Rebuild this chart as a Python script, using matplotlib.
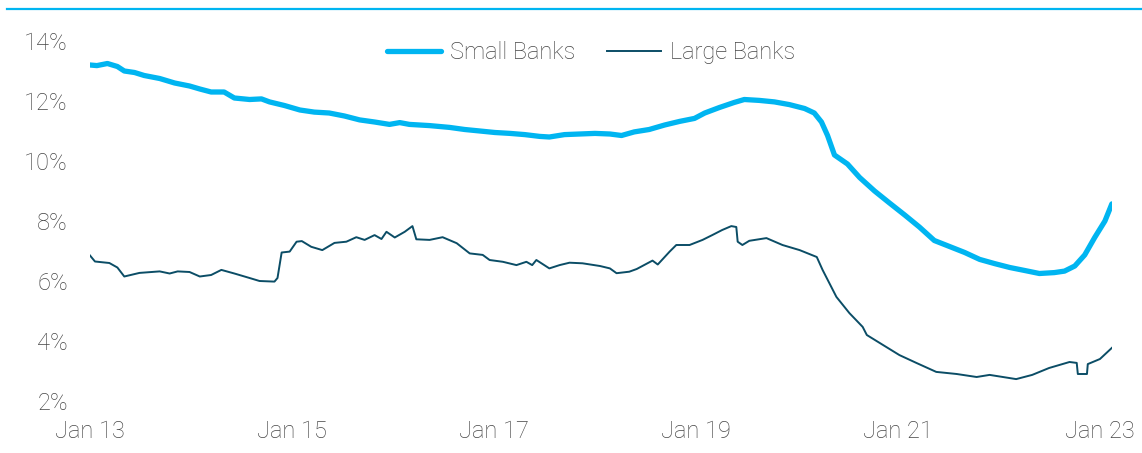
import pandas as pd
import matplotlib
matplotlib.use("Agg")
import matplotlib.pyplot as plt
import matplotlib.dates as mdates
from matplotlib.lines import Line2D

plt.rcParams["font.family"] = ["Roboto", "DejaVu Sans"]
plt.rcParams["font.weight"] = "light"

# Small banks (values in %)
small_dates = ["2013-01-01", "2013-01-26", "2013-03-05", "2013-04-10", "2013-05-05", "2013-06-11",
               "2013-07-16", "2013-09-10", "2013-11-03", "2013-12-27", "2014-02-02", "2014-03-15",
               "2014-05-01", "2014-06-07", "2014-08-01", "2014-09-13", "2014-10-12", "2014-12-05",
               "2015-01-30", "2015-03-23", "2015-05-16", "2015-07-10", "2015-09-03", "2015-10-27",
               "2015-12-20", "2016-01-26", "2016-03-01", "2016-05-13", "2016-07-24", "2016-09-17",
               "2016-11-11", "2017-01-04", "2017-02-28", "2017-04-22", "2017-06-15", "2017-07-20",
               "2017-09-13", "2017-11-07", "2018-01-01", "2018-02-24", "2018-04-07", "2018-05-23",
               "2018-07-16", "2018-09-10", "2018-11-03", "2018-12-27", "2019-02-02", "2019-03-26",
               "2019-05-19", "2019-06-25", "2019-08-18", "2019-10-12", "2019-12-05", "2020-01-29",
               "2020-03-04", "2020-03-30", "2020-04-21", "2020-05-16", "2020-07-02", "2020-08-15",
               "2020-10-08", "2020-12-01", "2021-01-25", "2021-03-19", "2021-05-12", "2021-07-06",
               "2021-08-30", "2021-10-23", "2021-12-16", "2022-02-09", "2022-04-04", "2022-05-27",
               "2022-07-20", "2022-08-26", "2022-10-02", "2022-11-07", "2022-12-13", "2023-01-19",
               "2023-02-13"]
small_vals = [13.20, 13.18, 13.25, 13.15, 13.00, 12.95,
              12.85, 12.75, 12.60, 12.50, 12.40, 12.30,
              12.30, 12.10, 12.05, 12.07, 11.97, 11.85,
              11.70, 11.63, 11.60, 11.50, 11.37, 11.30,
              11.22, 11.28, 11.22, 11.18, 11.12, 11.05,
              11.00, 10.95, 10.92, 10.88, 10.82, 10.80,
              10.88, 10.90, 10.92, 10.90, 10.85, 10.97,
              11.05, 11.20, 11.32, 11.42, 11.60, 11.78,
              11.95, 12.05, 12.02, 11.97, 11.88, 11.75,
              11.60, 11.30, 10.85, 10.20, 9.90, 9.45,
              9.00, 8.60, 8.20, 7.80, 7.35, 7.15,
              6.95, 6.72, 6.58, 6.45, 6.35, 6.25,
              6.28, 6.33, 6.50, 6.87, 7.45, 8.00,
              8.57]

# Large banks (values in %)
large_dates = ["2013-01-01", "2013-01-19", "2013-03-12", "2013-04-10", "2013-05-05", "2013-06-29",
               "2013-09-10", "2013-10-16", "2013-11-14", "2013-12-27", "2014-02-02", "2014-03-15",
               "2014-04-21", "2014-06-07", "2014-08-01", "2014-09-06", "2014-10-30", "2014-11-10",
               "2014-11-25", "2014-12-24", "2015-01-18", "2015-02-06", "2015-03-12", "2015-04-21",
               "2015-06-04", "2015-07-17", "2015-08-22", "2015-09-21", "2015-10-27", "2015-11-21",
               "2015-12-09", "2016-01-08", "2016-02-13", "2016-03-12", "2016-03-26", "2016-05-13",
               "2016-06-29", "2016-08-19", "2016-10-05", "2016-11-21", "2016-12-16", "2017-02-02",
               "2017-03-23", "2017-04-28", "2017-05-19", "2017-06-03", "2017-07-20", "2017-08-26",
               "2017-10-01", "2017-11-17", "2018-01-19", "2018-02-24", "2018-03-20", "2018-05-05",
               "2018-06-01", "2018-07-28", "2018-08-16", "2018-09-28", "2018-10-22", "2018-12-09",
               "2019-01-25", "2019-03-01", "2019-04-06", "2019-05-09", "2019-05-27", "2019-06-01",
               "2019-06-18", "2019-07-13", "2019-09-13", "2019-11-10", "2020-01-11", "2020-03-13",
               "2020-04-03", "2020-05-23", "2020-07-09", "2020-08-26", "2020-09-10", "2020-11-07",
               "2021-01-06", "2021-03-08", "2021-05-19", "2021-08-01", "2021-10-12", "2021-11-28",
               "2022-03-04", "2022-05-01", "2022-07-01", "2022-09-13", "2022-10-09", "2022-10-13",
               "2022-11-15", "2022-11-18", "2023-01-01", "2023-02-13"]
large_vals = [6.85, 6.65, 6.60, 6.45, 6.15, 6.27,
              6.32, 6.25, 6.32, 6.30, 6.15, 6.20,
              6.37, 6.25, 6.10, 6.00, 5.98, 6.10,
              6.95, 6.98, 7.31, 7.33, 7.14, 7.03,
              7.27, 7.31, 7.46, 7.37, 7.53, 7.40,
              7.64, 7.45, 7.64, 7.83, 7.39, 7.37,
              7.46, 7.26, 6.92, 6.87, 6.70, 6.64,
              6.53, 6.64, 6.53, 6.70, 6.42, 6.53,
              6.61, 6.59, 6.50, 6.42, 6.26, 6.31,
              6.40, 6.68, 6.55, 6.98, 7.20, 7.20,
              7.37, 7.53, 7.70, 7.83, 7.80, 7.31,
              7.20, 7.34, 7.43, 7.20, 7.03, 6.80,
              6.37, 5.47, 4.93, 4.47, 4.20, 3.87,
              3.53, 3.27, 2.97, 2.90, 2.80, 2.87,
              2.73, 2.87, 3.10, 3.30, 3.27, 2.90,
              2.90, 3.23, 3.40, 3.77]

tick_dates = ["2013-01-01", "2015-01-01", "2017-01-01", "2019-01-01", "2021-01-01", "2023-01-01"]

small_color = "#00b5f1"
large_color = "#0b4d66"
text_color = "#454545"

fig = plt.figure(figsize=(11.42, 4.53), dpi=100)
ax = fig.add_axes([90 / 1142, 52 / 453, 1022.4 / 1142, 360 / 453])

ax.plot(pd.to_datetime(small_dates), small_vals, color=small_color, lw=3.8,
        solid_capstyle="round", label="Small Banks")
ax.plot(pd.to_datetime(large_dates), large_vals, color=large_color, lw=1.4,
        label="Large Banks")

ax.set_xlim(pd.Timestamp("2013-01-01"), pd.Timestamp("2023-02-15"))
ax.set_ylim(2, 14)
ax.set_yticks(range(2, 15, 2))
ax.set_yticklabels([f"{v}%" for v in range(2, 15, 2)])
ax.set_xticks(pd.to_datetime(tick_dates))
ax.xaxis.set_major_formatter(mdates.DateFormatter("%b %y"))

for s in ax.spines.values():
    s.set_visible(False)
ax.tick_params(axis="y", length=0, pad=16, labelsize=17, labelcolor=text_color)
ax.tick_params(axis="x", length=0, pad=14, labelsize=17, labelcolor=text_color)

leg = ax.legend(loc="center", bbox_to_anchor=(0.49, 0.967), ncol=2, frameon=False,
                fontsize=17, handlelength=2.3, columnspacing=1.35, handletextpad=0.35)
for t in leg.get_texts():
    t.set_color(text_color)

# thin accent rule across the top
fig.add_artist(Line2D([7 / 1142, 1.0], [1 - 8.5 / 453, 1 - 8.5 / 453],
                      color=small_color, lw=1.6, transform=fig.transFigure))

fig.savefig("out.png", dpi=100)
